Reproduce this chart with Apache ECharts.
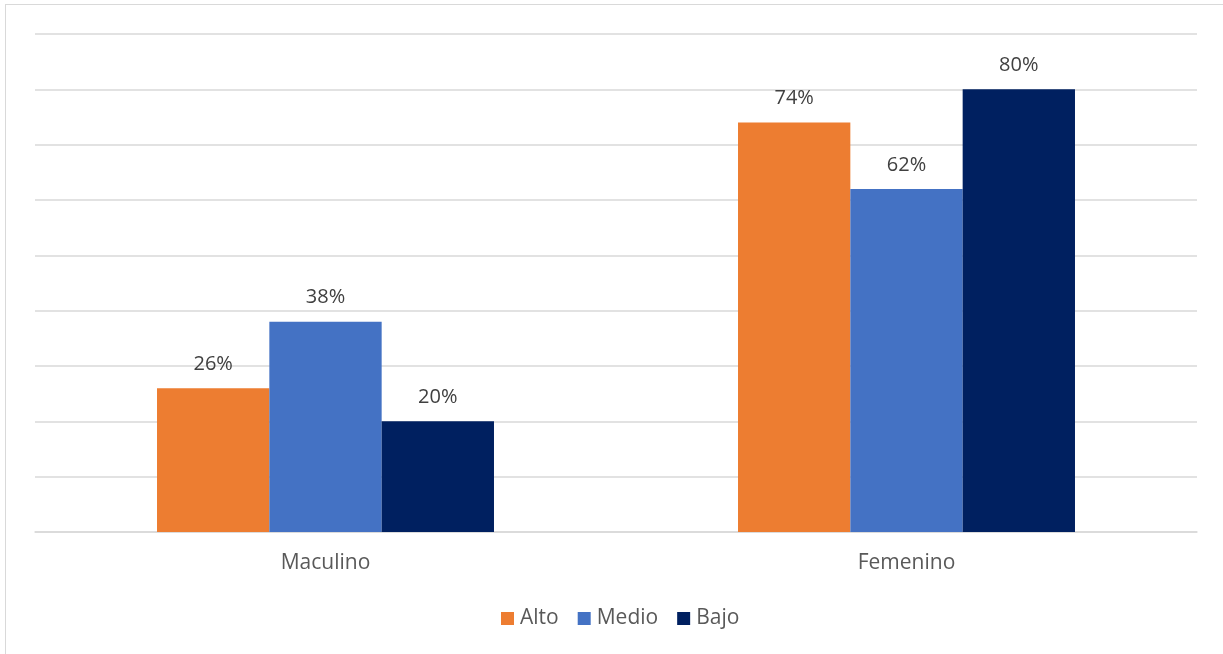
<!DOCTYPE html>
<html>
<head>
<meta charset="utf-8">
<script src="https://cdn.jsdelivr.net/npm/echarts@6/dist/echarts.min.js"></script>
<style>
  html, body { margin: 0; padding: 0; background: #ffffff; }
  #frame { position: absolute; left: 5px; top: 4px; width: 1230px; height: 700px; border: 1.5px solid #d9d9d9; box-sizing: border-box; }
  #chart { position: absolute; left: 0; top: 0; width: 1223px; height: 654px; }
</style>
</head>
<body>
<div id="frame"></div>
<div id="chart"></div>
<script>
// Grupos por sexo y nivel
const categories = ['Maculino', 'Femenino'];
const seriesNames = ['Alto', 'Medio', 'Bajo'];
const alto = [0.26, 0.74];
const medio = [0.38, 0.62];
const bajo = [0.20, 0.80];
const colors = ['#ED7D31', '#4472C4', '#002060'];

const font = "'Open Sans', 'Liberation Sans', sans-serif";
const values = [alto, medio, bajo];

const chart = echarts.init(document.getElementById('chart'), null, { renderer: 'canvas' });
chart.setOption({
  animation: false,
  backgroundColor: 'transparent',
  grid: { left: 35, right: 26, top: 34, bottom: 122, containLabel: false },
  legend: {
    data: seriesNames,
    bottom: 20,
    left: 496,
    icon: 'rect',
    itemWidth: 13,
    itemHeight: 13,
    itemGap: 19,
    textStyle: { color: '#595959', fontSize: 21, fontFamily: font, padding: [0, 0, 0, 1] }
  },
  xAxis: {
    type: 'category',
    data: categories,
    axisLine: { show: true, lineStyle: { color: '#d9d9d9', width: 1.5 } },
    axisTick: { show: false },
    axisLabel: { color: '#595959', fontSize: 21, fontFamily: font, margin: 21 }
  },
  yAxis: {
    type: 'value',
    min: 0,
    max: 0.9,
    interval: 0.1,
    axisLine: { show: false },
    axisTick: { show: false },
    axisLabel: { show: false },
    splitLine: { lineStyle: { color: '#d9d9d9', width: 1.5 } }
  },
  series: seriesNames.map((name, i) => ({
    name: name,
    type: 'bar',
    data: values[i],
    barGap: '0%',
    barCategoryGap: '42%',
    itemStyle: { color: colors[i] },
    label: {
      show: true,
      position: 'top',
      distance: 14,
      color: '#404040',
      fontSize: 20,
      fontFamily: font,
      formatter: p => Math.round(p.value * 100) + '%'
    }
  }))
});
</script>
</body>
</html>
